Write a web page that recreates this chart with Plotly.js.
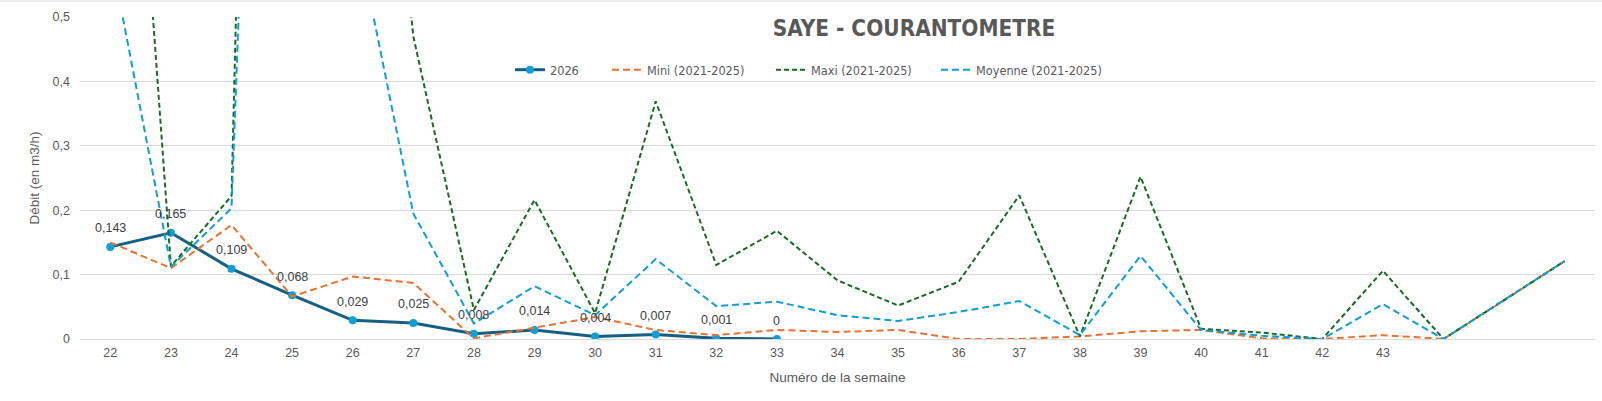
<!DOCTYPE html>
<html>
<head>
<meta charset="utf-8">
<script src="https://cdn.plot.ly/plotly-3.0.1.min.js"></script>
<style>
  html, body { margin: 0; padding: 0; background: #ffffff; }
  #chart { width: 1602px; height: 401px; }
</style>
</head>
<body>
<div id="chart"></div>
<script>
// ---- data ----
const weeks = [22,23,24,25,26,27,28,29,30,31,32,33,34,35,36,37,38,39,40,41,42,43,44,45,46];
const tickLabels = ['22','23','24','25','26','27','28','29','30','31','32','33','34','35','36','37','38','39','40','41','42','43','','',''];

const serie2026 = [0.143,0.165,0.109,0.068,0.029,0.025,0.008,0.014,0.004,0.007,0.001,0,
                   null,null,null,null,null,null,null,null,null,null,null,null,null];
const mini2125 = [0.150,0.110,0.177,0.066,0.097,0.087,0.001,0.018,0.034,0.014,0.006,0.014,
                  0.011,0.014,0,0,0.004,0.012,0.014,0.001,0,0.006,0,0.060,0.121];
const maxi2125 = [1.42,0.113,0.222,4.0,1.40,0.47,0.045,0.216,0.040,0.369,0.115,0.168,
                  0.091,0.052,0.089,0.223,0.004,0.252,0.016,0.010,0,0.106,0,0.060,0.121];
const moy2125  = [0.60,0.112,0.203,2.74,0.66,0.195,0.024,0.082,0.037,0.124,0.051,0.058,
                  0.037,0.028,0.042,0.059,0.006,0.129,0.014,0.005,0,0.054,0,0.060,0.121];

const seriesNames = ['2026','Mini (2021-2025)','Maxi (2021-2025)','Moyenne (2021-2025)'];
const chartTitle = 'SAYE - COURANTOMETRE';
const xTitle = 'Numéro de la semaine';
const yTitle = 'Débit (en m3/h)';

// ---- styles ----
const narrow = '"Liberation Sans Narrow", "DejaVu Sans Condensed", "Liberation Sans", sans-serif';
const regular = '"Liberation Sans", Arial, sans-serif';
const grey = '#595959';

const traces = [
  {
    x: weeks, y: serie2026, name: seriesNames[0], type: 'scatter', mode: 'lines+markers',
    line: { color: '#156082', width: 3 },
    marker: { color: '#0F9ED5', size: 8, line: { width: 0 } },
    connectgaps: false, legend: 'legend'
  },
  {
    x: weeks, y: mini2125, name: seriesNames[1], type: 'scatter', mode: 'lines',
    line: { color: '#E97132', width: 2, dash: '7px,4px' }, legend: 'legend2'
  },
  {
    x: weeks, y: maxi2125, name: seriesNames[2], type: 'scatter', mode: 'lines',
    line: { color: '#196B24', width: 2, dash: '5px,3px' }, legend: 'legend3'
  },
  {
    x: weeks, y: moy2125, name: seriesNames[3], type: 'scatter', mode: 'lines',
    line: { color: '#0F9ED5', width: 2, dash: '7px,4px' }, legend: 'legend4'
  }
];

const labelAnnotations = [];
weeks.forEach(function (w, i) {
  const v = serie2026[i];
  if (v === null || v === undefined) return;
  labelAnnotations.push({
    x: w, y: v, xref: 'x', yref: 'y',
    text: String(v).replace('.', ','),
    showarrow: false, yshift: 18.5, xanchor: 'center', yanchor: 'middle',
    font: { family: regular, size: 12.5, color: '#404040' }
  });
});

function legendAt(px) {
  return {
    orientation: 'h',
    x: (px - 80) / 1515, xanchor: 'left',
    y: 1 - (70 - 17) / 322, yanchor: 'middle',
    font: { family: narrow, size: 12.6, color: grey },
    bgcolor: 'rgba(0,0,0,0)'
  };
}

const layout = {
  width: 1602, height: 401,
  margin: { l: 80, r: 7, t: 17, b: 62, pad: 0 },
  paper_bgcolor: '#ffffff', plot_bgcolor: '#ffffff',
  separators: ',.',
  showlegend: true,
  title: {
    text: chartTitle,
    x: 914 / 1602, xref: 'container', xanchor: 'center',
    y: 1 - 28 / 401, yref: 'container', yanchor: 'middle',
    font: { family: narrow, size: 22.4, color: grey, weight: 'bold' }
  },
  legend: legendAt(510),
  legend2: legendAt(607),
  legend3: legendAt(771),
  legend4: legendAt(936),
  xaxis: {
    type: 'linear',
    range: [weeks[0] - 0.5, weeks[weeks.length - 1] + 0.5],
    tickmode: 'array', tickvals: weeks, ticktext: tickLabels,
    showgrid: false, zeroline: false, showline: false, ticks: '',
    ticklabelstandoff: 4,
    tickfont: { family: regular, size: 12.5, color: grey },
    title: { text: xTitle, standoff: 14, font: { family: regular, size: 13.5, color: grey } },
    fixedrange: true
  },
  yaxis: {
    range: [0, 0.5], dtick: 0.1, tick0: 0,
    showgrid: true, gridcolor: '#d9d9d9', gridwidth: 1,
    zeroline: true, zerolinecolor: '#d9d9d9', zerolinewidth: 1,
    showline: false, ticks: '',
    ticklabelstandoff: 9,
    tickfont: { family: regular, size: 12.5, color: grey },
    title: { text: yTitle, standoff: 9, font: { family: regular, size: 13.5, color: grey } },
    fixedrange: true
  },
  annotations: labelAnnotations,
  shapes: [
    {
      type: 'line', xref: 'paper', yref: 'paper',
      x0: -80 / 1515, x1: 1 + 7 / 1515,
      y0: 1 + 16 / 322, y1: 1 + 16 / 322,
      line: { color: '#d9d9d9', width: 1 }
    }
  ]
};

Plotly.newPlot('chart', traces, layout, { displayModeBar: false, staticPlot: true });
</script>
</body>
</html>
